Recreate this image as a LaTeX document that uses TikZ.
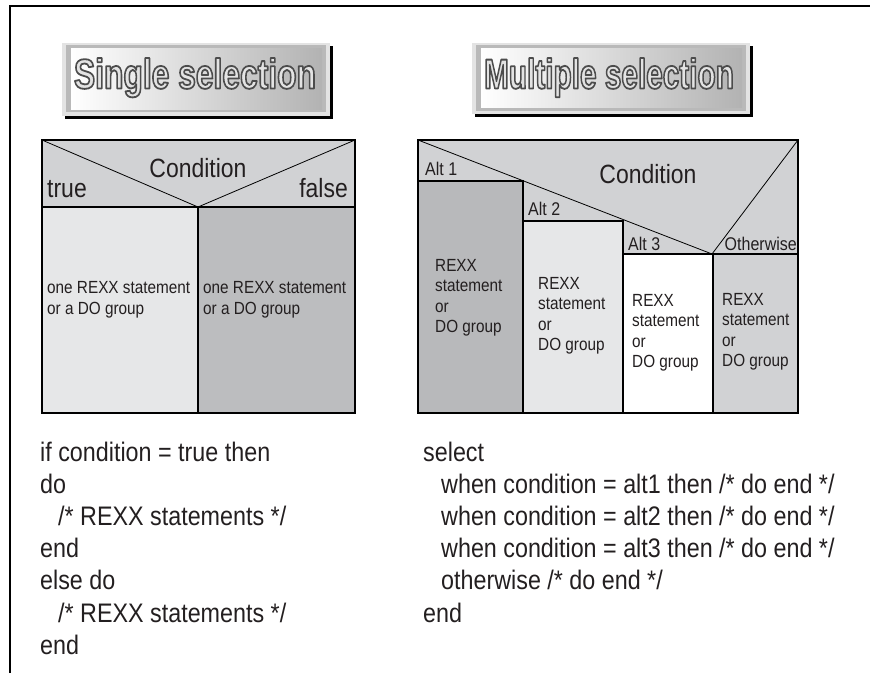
\documentclass[tikz,border=0pt]{standalone}
\usepackage{fontspec}
\setmainfont{Liberation Sans}[FakeStretch=0.87]
\definecolor{hdrgray}{HTML}{D1D2D4}
\definecolor{palegray}{HTML}{E6E7E8}
\definecolor{midgray}{HTML}{BCBDBF}
\definecolor{altgray}{HTML}{B8B9BB}
\definecolor{inkgray}{HTML}{231F20}
\newcommand\embossed[2]{%
  \scalebox{#1}[1]{{\color{gray!22}%
    \special{pdf:literal direct 1.8 w 1 j 2 Tr 0.3 G}#2\special{pdf:literal direct 0 Tr}}}}
\tikzset{
  thickline/.style={line width=2.6pt},
  thinline/.style={line width=0.8pt},
  lbl/.style={inner sep=0pt, text=inkgray, font=\fontsize{26.4}{30}\selectfont},
  altlbl/.style={inner sep=0pt, text=inkgray, font=\fontsize{18.4}{22}\selectfont},
  boxtext/.style={inner sep=0pt, text=inkgray, align=left, anchor=west, font=\fontsize{17.6}{20.5}\selectfont},
  codeblock/.style={inner sep=0pt, text=inkgray, anchor=north west, align=left, font=\fontsize{26.8}{32.2}\selectfont},
  bannerlbl/.style={inner sep=0pt, anchor=base, font=\fontsize{42}{46}\selectfont\bfseries}
}
\begin{document}
\begin{tikzpicture}[x=1pt,y=-1pt]
\useasboundingbox (0,0) rectangle (870,673);
\draw[line width=2.4pt] (10,673)--(10,6)--(870,6);
% banners
\fill[black] (65,46) rectangle (333,119);
\fill[gray!22] (62,43) rectangle (330,116);
\fill[gray!55] (66,45) rectangle (326,112);
\shade[left color=white, right color=gray!60] (71,48) rectangle (322,109);
\node[bannerlbl] (single) at (195,88.5) {\embossed{0.87}{Single selection}};
\fill[black] (475,46) rectangle (753,117);
\fill[gray!22] (472,43) rectangle (750,114);
\fill[gray!55] (476,45) rectangle (746,111);
\shade[left color=white, right color=gray!60] (481,48) rectangle (742,107);
\node[bannerlbl] (multiple) at (609,88.5) {\embossed{0.815}{Multiple selection}};
% single selection box
\coordinate (sTL) at (42,140);
\coordinate (sTR) at (355,140);
\coordinate (sV) at (198,207);
\fill[hdrgray] (42,140) rectangle (355,207);
\fill[palegray] (42,207) rectangle (198,413);
\fill[midgray] (198,207) rectangle (355,413);
\draw[thinline] (sTL) -- (sV) -- (sTR);
\draw[thickline] (42,207) -- (355,207) (198,207) -- (198,413);
\draw[thickline] (42,140) rectangle (355,413);
\node[lbl, anchor=base] (scond) at (198,177) {Condition};
\node[lbl, anchor=base west] (strue) at (47,197) {true};
\node[lbl, anchor=base east] (sfalse) at (348,197) {false};
\node[boxtext] (sleft) at (47,300) {one REXX statement\\or a DO group};
\node[boxtext] (sright) at (203,300) {one REXX statement\\or a DO group};
% multiple selection box
\coordinate (mTL) at (418,140);
\coordinate (mTR) at (798,140);
\coordinate (mV) at (712,254);
\fill[hdrgray] (418,140) rectangle (798,413);
\fill[altgray] (418,181) rectangle (523,413);
\fill[palegray] (523,221) rectangle (623,413);
\fill[white] (623,254) rectangle (713,413);
\draw[thinline] (mTL) -- (mV) -- (mTR);
\draw[thickline] (418,181) -- (523,181) -- (523,413);
\draw[thickline] (523,221) -- (623,221) -- (623,413);
\draw[thickline] (623,254) -- (798,254) (713,254) -- (713,413);
\draw[thickline] (418,140) rectangle (798,413);
\node[lbl, anchor=base] (mcond) at (648,183) {Condition};
\node[altlbl, anchor=base west] (alt1) at (425,175) {Alt 1};
\node[altlbl, anchor=base west] (alt2) at (528,215) {Alt 2};
\node[altlbl, anchor=base west] (alt3) at (628,250) {Alt 3};
\node[altlbl, anchor=base east] (other) at (797,250) {Otherwise};
\node[boxtext] (body1) at (435,298) {REXX\\statement\\or\\DO group};
\node[boxtext] (body2) at (538,316) {REXX\\statement\\or\\DO group};
\node[boxtext] (body3) at (632,333) {REXX\\statement\\or\\DO group};
\node[boxtext] (body4) at (722,332) {REXX\\statement\\or\\DO group};
% code
\node[codeblock] (ifcode) at (40,441.5) {if condition = true then\\do\\\hspace*{18pt}/* REXX statements */\\end\\else do\\\hspace*{18pt}/* REXX statements */\\end};
\node[codeblock] (selcode) at (423,441.5) {select\\\hspace*{18pt}when condition = alt1 then /* do end */\\\hspace*{18pt}when condition = alt2 then /* do end */\\\hspace*{18pt}when condition = alt3 then /* do end */\\\hspace*{18pt}otherwise /* do end */\\end};
\end{tikzpicture}
\end{document}
